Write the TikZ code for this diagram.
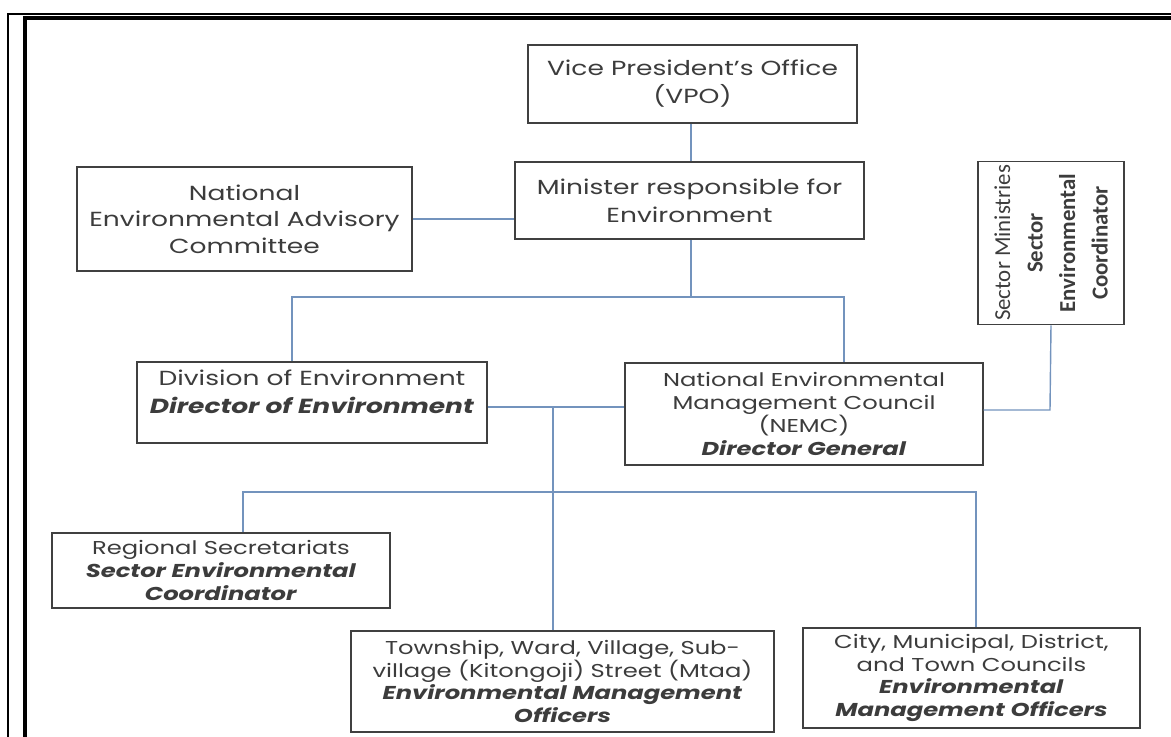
\documentclass[tikz,border=0pt]{standalone}
\usepackage{fontspec}
\setmainfont{Poppins}[FakeStretch=1.3]
\newfontfamily\narrowfont{Carlito}
\usetikzlibrary{positioning,calc}

\definecolor{txtgrey}{HTML}{3C3C3C}
\definecolor{linkblue}{HTML}{7393BD}

\newcommand{\bi}[1]{\textbf{\textit{#1}}}

\begin{document}
\begin{tikzpicture}[
  x=0.02cm, y=-0.02cm,
  font=\fontsize{10.6}{13}\selectfont,
  box/.style={draw=black!75, line width=0.9pt, align=center, inner sep=2pt,
              text=txtgrey},
  topbox/.style={box, font=\fontsize{11.6}{16}\selectfont},
  link/.style={draw=linkblue, line width=0.8pt}
]
\useasboundingbox (0,0) rectangle (1171,737);
% page frame
\draw[line width=1.2pt] (8,737) -- (8,14) -- (1171,14);
\draw[line width=2pt] (25,737) -- (25,18) -- (1171,18);

\node[topbox, minimum width=6.58cm, minimum height=1.56cm] (vpo) at (692.5,84)
  {Vice President's Office\\(VPO)};
\node[topbox, minimum width=6.98cm, minimum height=1.54cm] (minister) at (689.5,200.5)
  {Minister responsible for\\Environment};
\node[topbox, minimum width=6.7cm, minimum height=2.08cm,
      font=\fontsize{11.6}{15}\selectfont] (neac) at (244.5,219)
  {National\\Environmental Advisory\\Committee};
\node[box, rotate=90, minimum width=3.2cm, minimum height=2.92cm,
      font=\narrowfont\fontsize{13}{18.5}\selectfont] (sector) at (1051,243)
  {Sector Ministries\\\textbf{Sector}\\\textbf{Environmental}\\\textbf{Coordinator}};
\node[topbox, minimum width=7cm, minimum height=1.62cm] (division) at (312,402.5)
  {Division of Environment\\\bi{Director of Environment}\\[-9pt]\strut};
\node[box, minimum width=7.15cm, minimum height=2.04cm] (nemc) at (804,414)
  {National Environmental\\Management Council\\(NEMC)\\\bi{Director General}};
\node[box, minimum width=6.76cm, minimum height=1.5cm] (regional) at (221,570.5)
  {Regional Secretariats\\\bi{Sector Environmental}\\\bi{Coordinator}};
\node[box, minimum width=8.46cm, minimum height=2.02cm] (township) at (562.5,681.5)
  {Township, Ward, Village, Sub-\\village (Kitongoji) Street (Mtaa)\\\bi{Environmental Management}\\\bi{Officers}};
\node[box, minimum width=6.74cm, minimum height=2cm] (city) at (971.5,678)
  {City, Municipal, District,\\and Town Councils\\\bi{Environmental}\\\bi{Management Officers}};

% junctions
\coordinate (j1) at (691,297);
\coordinate (j1l) at (292,297);
\coordinate (j1r) at (844,297);
\coordinate (j2) at (1050,410);
\coordinate (j3) at (553,407);
\coordinate (j4l) at (243,492);
\coordinate (j4r) at (976,492);

% connectors
\draw[link] (vpo.south -| j1) -- (minister.north -| j1);
\draw[link] (neac.east) -- (neac.east -| minister.west);
\draw[link] (minister.south -| j1) -- (j1);
\draw[link] (division.north -| j1l) -- (j1l) -- (j1r) -- (nemc.north -| j1r);
\draw[link] (sector.west) -- (j2) -- (j2 -| nemc.east);
\draw[link] (division.east |- j3) -- (nemc.west |- j3);
\draw[link] (j3) -- (township.north -| j3);
\draw[link] (regional.north -| j4l) -- (j4l) -- (j4r) -- (city.north -| j4r);
\end{tikzpicture}
\end{document}
